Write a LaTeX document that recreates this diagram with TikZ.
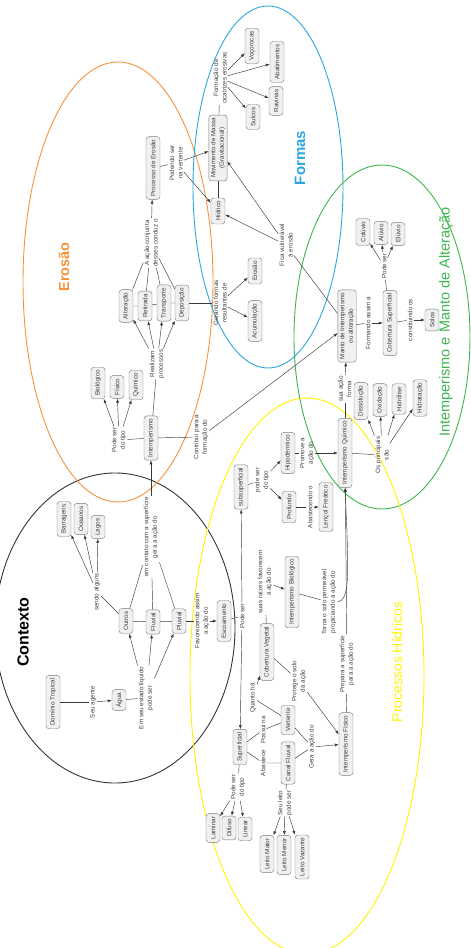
\documentclass[tikz,border=0pt]{standalone}
\usepackage{fontspec}
\setmainfont{Liberation Sans}
\usetikzlibrary{arrows.meta}

\definecolor{boxfill}{HTML}{F0F0F0}
\definecolor{boxline}{HTML}{7A7A7A}
\definecolor{linkgray}{HTML}{3A3A3A}
\definecolor{erosaoorange}{HTML}{F7923A}
\definecolor{formasblue}{HTML}{2AA7E0}
\definecolor{mantogreen}{HTML}{3DB54A}
\definecolor{hidricoyellow}{HTML}{FFF200}

\begin{document}
\begin{tikzpicture}[x=1pt, y=-1pt,
  concept/.style={rotate=90, draw=boxline, fill=boxfill, rounded corners=3pt,
    font=\fontsize{6.3}{8.5}\selectfont, text=black!75, align=center,
    inner xsep=3pt, inner ysep=2pt, minimum height=14pt},
  linkword/.style={rotate=90, font=\fontsize{6.3}{8.5}\selectfont,
    text=black!75, align=center, inner sep=1pt},
  link/.style={draw=linkgray, line width=0.45pt},
  arrow/.style={link, -{Latex[length=4pt, width=3pt]}},
  region/.style={line width=0.9pt},
  maptitle/.style={rotate=90, font=\fontsize{#1}{#1}\selectfont}]
  \useasboundingbox (0,0) rectangle (471,948);

  % Regions of the map.
  \draw[region, black!80]      (115,628) ellipse (120 and 155);
  \draw[region, erosaoorange]  (118,282) ellipse (95 and 220);
  \draw[region, formasblue]    (268,187) ellipse (75 and 181);
  \draw[region, mantogreen]    (382,337) ellipse (88 and 172);
  \draw[region, hidricoyellow] (307,676) ellipse (117 and 278);

  % Region titles.
  \node[maptitle=16]                 at (23,632)  {\bfseries Contexto};
  \node[maptitle=14.5, erosaoorange] at (64,267)  {\bfseries Erosão};
  \node[maptitle=15, formasblue]     at (300,158) {\bfseries Formas};
  \node[maptitle=14.5, mantogreen]   at (446,322) {Intemperismo e Manto de Alteração};
  \node[maptitle=14, hidricoyellow]  at (397,662) {Processos Hídricos};

  % Contexto.
  \node[concept]  (dominio)    at (53,702)  {Domínio Tropical};
  \node[linkword] (lAgente)    at (93,702)  {Seu agente};
  \node[concept]  (agua)       at (119,700) {Água};
  \node[linkword] (lLiquido)   at (146,698) {Em seu estado líquido\\pode ser};
  \node[concept]  (outros)     at (126,621) {Outros};
  \node[concept]  (fluvial)    at (153,622) {Fluvial};
  \node[concept]  (pluvial)    at (179,621) {Pluvial};
  \node[linkword] (lAlguns)    at (97,592)  {sendo alguns};
  \node[concept]  (barragens)  at (64,519)  {Barragens};
  \node[concept]  (oceanos)    at (81,519)  {Oceanos};
  \node[concept]  (lagos)      at (98,527)  {Lagos};
  \node[linkword] (lContato)   at (151,537) {em contato com a superfície\\gera a ação do};
  \node[linkword] (lFavorece)  at (202,621) {Favorecendo assim\\a ação do};
  \node[concept]  (escoamento) at (224,621) {Escoamento};
  \draw[link]  (dominio) -- (lAgente);
  \draw[arrow] (lAgente) -- (agua);
  \draw[link]  (agua) -- (lLiquido);
  \draw[arrow] (lLiquido) -- (outros);
  \draw[arrow] (lLiquido) -- (fluvial);
  \draw[arrow] (lLiquido) -- (pluvial);
  \draw[link]  (outros) -- (fluvial) -- (pluvial);
  \draw[link]  (outros) -- (lAlguns);
  \draw[arrow] (lAlguns) -- (barragens);
  \draw[arrow] (lAlguns) -- (oceanos);
  \draw[arrow] (lAlguns) -- (lagos);
  \draw[link]  (outros) -- (lContato);
  \draw[link]  (fluvial) -- (lContato);
  \draw[link]  (pluvial) -- (lContato);
  \draw[link]  (pluvial) -- (lFavorece);
  \draw[arrow] (lFavorece) -- (escoamento);

  % Erosao.
  \node[concept]  (intemp)     at (151,438) {Intemperismo};
  \node[linkword] (lTipoInt)   at (119,440) {Pode ser\\do tipo};
  \node[concept]  (biologico)  at (98,383)  {Biológico};
  \node[concept]  (fisico)     at (117,387) {Físico};
  \node[concept]  (quimico)    at (136,385) {Químico};
  \node[linkword] (lRealizam)  at (157,364) {Realizam\\processos};
  \node[concept]  (alteracao)  at (126,306) {Alteração};
  \node[concept]  (retirada)   at (145,306) {Retirada};
  \node[concept]  (transporte) at (164,303) {Transporte};
  \node[concept]  (deposicao)  at (182,303) {Deposição};
  \node[linkword] (lConjunta)  at (151,243) {A ação conjunta\\desses conduz o};
  \node[concept]  (processo)   at (153,168) {Processo de Erosão};
  \node[linkword] (lPodendo)   at (176,163) {Podendo ser\\na vertente};
  \node[linkword] (lContribui) at (201,437) {Contribui para a\\formação do};
  \draw[arrow] (lContato) -- (intemp);
  \draw[link]  (intemp) -- (lTipoInt);
  \draw[arrow] (lTipoInt) -- (biologico);
  \draw[arrow] (lTipoInt) -- (fisico);
  \draw[arrow] (lTipoInt) -- (quimico);
  \draw[link]  (intemp) -- (lRealizam);
  \draw[arrow] (lRealizam) -- (alteracao);
  \draw[arrow] (lRealizam) -- (retirada);
  \draw[arrow] (lRealizam) -- (transporte);
  \draw[arrow] (lRealizam) -- (deposicao);
  \draw[link]  (alteracao) -- (retirada) -- (transporte) -- (deposicao);
  \draw[link]  (alteracao) -- (lConjunta);
  \draw[link]  (retirada) -- (lConjunta);
  \draw[link]  (transporte) -- (lConjunta);
  \draw[link]  (deposicao) -- (lConjunta);
  \draw[arrow] (lConjunta) -- (processo);
  \draw[link]  (processo) -- (lPodendo);
  \draw[link]  (intemp) -- (lContribui);

  % Formas.
  \node[concept]  (movimento)   at (218,148) {Movimento de Massa\\(Gravitacional)};
  \node[concept]  (hidrico)     at (218,211) {Hídrico};
  \node[linkword] (lCicatriz)   at (220,78)  {Formação de\\cicatrizes erosivas};
  \node[concept]  (vocorocas)   at (252,46)  {Voçorocas};
  \node[concept]  (abatimentos) at (277,62)  {Abatimentos};
  \node[concept]  (ravinas)     at (276,101) {Ravinas};
  \node[concept]  (sulcos)      at (253,117) {Sulcos};
  \node[linkword] (lVulneravel) at (286,245) {Fica vulnerável\\à erosão};
  \node[linkword] (lGerando)    at (220,303) {Gerando formas\\resultantes de};
  \node[concept]  (erosao)      at (255,271) {Erosão};
  \node[concept]  (acumulacao)  at (255,321) {Acumulação};
  \draw[arrow] (lPodendo) -- (movimento);
  \draw[arrow] (lPodendo) -- (hidrico);
  \draw[link]  (movimento) -- (hidrico);
  \draw[link]  (movimento) -- (lCicatriz);
  \draw[arrow] (lCicatriz) -- (vocorocas);
  \draw[arrow] (lCicatriz) -- (abatimentos);
  \draw[arrow] (lCicatriz) -- (ravinas);
  \draw[arrow] (lCicatriz) -- (sulcos);
  \draw[arrow] (lVulneravel) -- (hidrico);
  \draw[arrow] (lVulneravel) -- (movimento);
  \draw[link]  (deposicao) -- (lGerando);
  \draw[arrow] (lGerando) -- (erosao);
  \draw[arrow] (lGerando) -- (acumulacao);

  % Intemperismo e manto de alteracao.
  \node[concept]  (manto)       at (347,326) {Manto de Intemperismo\\ou alteração};
  \node[linkword] (lFormando)   at (368,323) {Formando assim a};
  \node[concept]  (cobertura)   at (390,323) {Cobertura Superficial};
  \node[linkword] (lPodeSerC)   at (384,266) {Pode ser};
  \node[concept]  (coluvio)     at (363,232) {Colúvio};
  \node[concept]  (aluvio)      at (381,233) {Alúvio};
  \node[concept]  (eluvio)      at (398,234) {Elúvio};
  \node[linkword] (lConstitui)  at (410,320) {constituindo os};
  \node[concept]  (solos)       at (432,320) {Solos};
  \node[concept]  (quimicoInt)  at (345,453) {Intemperismo Químico};
  \node[linkword] (lSuaAcao)    at (345,389) {sua ação\\forma};
  \node[linkword] (lPrincipais) at (382,455) {Os principais\\são};
  \node[concept]  (dissolucao)  at (361,401) {Dissolução};
  \node[concept]  (oxidacao)    at (380,400) {Oxidação};
  \node[concept]  (hidrolise)   at (399,399) {Hidrólise};
  \node[concept]  (hidratacao)  at (420,398) {Hidratação};
  \draw[arrow] (lContribui) -- (manto);
  \draw[link]  (manto) -- (lVulneravel);
  \draw[link]  (manto) -- (lFormando);
  \draw[arrow] (lFormando) -- (cobertura);
  \draw[link]  (cobertura) -- (lPodeSerC);
  \draw[arrow] (lPodeSerC) -- (coluvio);
  \draw[arrow] (lPodeSerC) -- (aluvio);
  \draw[arrow] (lPodeSerC) -- (eluvio);
  \draw[link]  (cobertura) -- (lConstitui);
  \draw[arrow] (lConstitui) -- (solos);
  \draw[link]  (quimicoInt) -- (lSuaAcao);
  \draw[arrow] (lSuaAcao) -- (manto);
  \draw[link]  (quimicoInt) -- (lPrincipais);
  \draw[arrow] (lPrincipais) -- (dissolucao);
  \draw[arrow] (lPrincipais) -- (oxidacao);
  \draw[arrow] (lPrincipais) -- (hidrolise);
  \draw[arrow] (lPrincipais) -- (hidratacao);

  % Processos hidricos.
  \node[linkword] (lPodeSerE)    at (242,616) {Pode ser};
  \node[concept]  (subsuperf)    at (241,487) {subsuperficial};
  \node[linkword] (lTipoSub)     at (262,480) {pode ser\\do tipo};
  \node[concept]  (hipodermico)  at (288,453) {Hipodérmico};
  \node[concept]  (profundo)     at (289,507) {Profundo};
  \node[linkword] (lPromove)     at (307,453) {Promove a\\ação do};
  \node[linkword] (lAbastecendo) at (310,507) {Abastecendo o};
  \node[concept]  (lencol)       at (326,507) {Lençol Freático};
  \node[concept]  (vegetal)      at (267,652) {Cobertura Vegetal};
  \node[linkword] (lRaizes)      at (265,582) {suas raízes favorecem\\a ação do};
  \node[concept]  (biologicoInt) at (292,592) {Intemperismo Biológico};
  \node[linkword] (lTorna)       at (329,602) {Torna o solo permeável\\propiciando a ação do};
  \node[linkword] (lPrepara)     at (347,664) {Prepara a superfície\\para a ação do};
  \node[linkword] (lProtege)     at (299,681) {Protege o solo\\da ação};
  \node[concept]  (fisicoInt)    at (346,744) {Intemperismo Físico};
  \node[linkword] (lGera)        at (312,747) {Gera a ação do};
  \node[concept]  (vertente)     at (288,720) {Vertente};
  \node[concept]  (canal)        at (288,763) {Canal Fluvial};
  \node[linkword] (lQuanto)      at (253,698) {Quanto há};
  \node[concept]  (superficial)  at (240,747) {Superficial};
  \node[linkword] (lPossui)      at (263,730) {Possui na};
  \node[linkword] (lAbastece)    at (263,763) {Abastece};
  \node[linkword] (lTipoSup)     at (238,787) {Pode ser\\do tipo};
  \node[concept]  (laminar)      at (213,828) {Laminar};
  \node[concept]  (difuso)       at (229,828) {Difuso};
  \node[concept]  (linear)       at (245,829) {Linear};
  \node[linkword] (lLeito)       at (285,803) {Seu leito\\pode ser};
  \node[concept]  (leitoMaior)   at (267,854) {Leito Maior};
  \node[concept]  (leitoMenor)   at (284,855) {Leito Menor};
  \node[concept]  (leitoVazante) at (302,857) {Leito Vazante};
  \draw[link]  (escoamento) -- (lPodeSerE);
  \draw[arrow] (lPodeSerE) -- (subsuperf);
  \draw[arrow] (lPodeSerE) -- (superficial);
  \draw[link]  (subsuperf) -- (lTipoSub);
  \draw[arrow] (lTipoSub) -- (hipodermico);
  \draw[arrow] (lTipoSub) -- (profundo);
  \draw[link]  (hipodermico) -- (lPromove);
  \draw[arrow] (lPromove) -- (quimicoInt);
  \draw[link]  (profundo) -- (lAbastecendo);
  \draw[arrow] (lAbastecendo) -- (lencol);
  \draw[link]  (vegetal) -- (lRaizes);
  \draw[arrow] (lRaizes) -- (biologicoInt);
  \draw[link]  (biologicoInt) -- (lTorna);
  \draw[arrow] (lTorna.south) .. controls (350,600) and (349,575) .. (quimicoInt.west);
  \draw[link]  (fisicoInt) -- (lPrepara);
  \draw[arrow] (lPrepara) -- (quimicoInt);
  \draw[link]  (vegetal) -- (lProtege);
  \draw[arrow] (lProtege) -- (fisicoInt);
  \draw[link]  (vertente) -- (lGera);
  \draw[link]  (canal) -- (lGera);
  \draw[arrow] (lGera) -- (fisicoInt);
  \draw[link]  (vertente) -- (lQuanto);
  \draw[arrow] (lQuanto) -- (vegetal);
  \draw[link]  (superficial) -- (lPossui) -- (vertente);
  \draw[link]  (superficial) -- (lAbastece) -- (canal);
  \draw[link]  (superficial) -- (lTipoSup);
  \draw[arrow] (lTipoSup) -- (laminar);
  \draw[arrow] (lTipoSup) -- (difuso);
  \draw[arrow] (lTipoSup) -- (linear);
  \draw[link]  (canal) -- (lLeito);
  \draw[arrow] (lLeito) -- (leitoMaior);
  \draw[arrow] (lLeito) -- (leitoMenor);
  \draw[arrow] (lLeito) -- (leitoVazante);
\end{tikzpicture}
\end{document}
